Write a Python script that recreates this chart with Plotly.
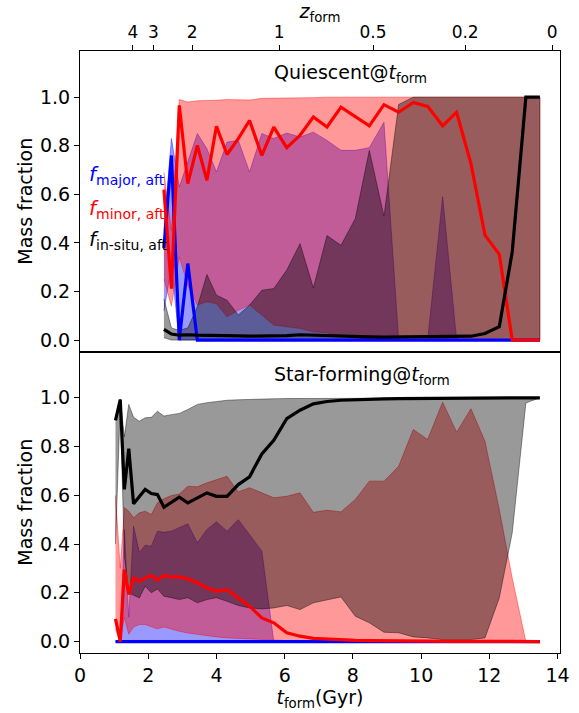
import plotly.graph_objects as go

# Formation time grid (Gyr)
t_gyr = [1.04, 1.18, 1.30, 1.43, 1.57, 1.74, 1.91, 2.09, 2.27, 2.46,
         2.68, 2.91, 3.16, 3.44, 3.72, 4.00, 4.31, 4.64, 4.97, 5.33,
         5.68, 6.06, 6.45, 6.84, 7.24, 7.65, 8.07, 8.48, 8.91, 9.34,
         9.77, 10.19, 10.63, 11.04, 11.46, 11.87, 12.29, 12.67, 13.07, 13.48]

# Redshift axis: labels and the cosmic time (Gyr) where each sits
z_labels = ["4", "3", "2", "1", "0.5", "0.2", "0"]
z_tick_t = [1.55, 2.15, 3.29, 5.84, 8.59, 11.29, 13.84]

x_ticks = [0, 2, 4, 6, 8, 10, 12, 14]
y_ticks = [0.0, 0.2, 0.4, 0.6, 0.8, 1.0]

# ---------------- Quiescent@t_form (starts at t_gyr[9]) ----------------
Q_START = 9
q_major_med = [0.38, 0.76, 0.0, 0.315, 0.0, 0.0, 0.0, 0.0, 0.0, 0.0,
               0.0, 0.0, 0.0, 0.0, 0.0, 0.0, 0.0, 0.0, 0.0, 0.0,
               0.0, 0.0, 0.0, 0.0, 0.0, 0.0, 0.0, 0.0, 0.0, 0.0, 0.0]
q_major_hi = [0.45, 0.83, 0.63, 0.733, 0.85, 0.788, 0.692, 0.815, 0.822, 0.692,
              0.85, 0.83, 0.852, 0.836, 0.856, 0.822, 0.781, 0.781, 0.792, 0.897,
              0.0, 0.0, 0.0, 0.59, 0.0, 0.0, 0.0, 0.0, 0.0, 0.0, 0.0]
q_major_lo = [0.12, 0.30, 0.0, 0.0, 0.0, 0.0, 0.0, 0.0, 0.0, 0.0,
              0.0, 0.0, 0.0, 0.0, 0.0, 0.0, 0.0, 0.0, 0.0, 0.0,
              0.0, 0.0, 0.0, 0.0, 0.0, 0.0, 0.0, 0.0, 0.0, 0.0, 0.0]

q_minor_med = [0.619, 0.212, 0.966, 0.644, 0.801, 0.658, 0.88, 0.764, 0.829, 0.904,
               0.760, 0.877, 0.792, 0.843, 0.918, 0.877, 0.959, 0.921, 0.882, 0.969,
               0.938, 0.978, 0.962, 0.882, 0.938, 0.726, 0.432, 0.353, 0.0, 0.0, 0.0]
q_minor_hi = [0.69, 0.45, 0.99, 0.98, 0.985, 0.985, 0.987, 0.99, 0.99, 0.988,
              0.995, 0.995, 0.998, 0.998, 0.998, 1.0, 1.0, 1.0, 1.0, 1.0,
              1.0, 1.0, 1.0, 1.0, 1.0, 1.0, 1.0, 1.0, 1.0, 1.0, 1.0]
q_minor_lo = [0.25, 0.14, 0.342, 0.226, 0.144, 0.158, 0.15, 0.096, 0.123, 0.144,
              0.103, 0.062, 0.055, 0.048, 0.034, 0.03, 0.015, 0.01, 0.0, 0.0,
              0.0, 0.0, 0.0, 0.0, 0.0, 0.0, 0.0, 0.0, 0.0, 0.0, 0.0]

q_insitu_med = [0.044, 0.025, 0.02, 0.022, 0.02, 0.02, 0.018, 0.017, 0.017, 0.016,
                0.016, 0.016, 0.018, 0.022, 0.02, 0.017, 0.015, 0.015, 0.013, 0.012,
                0.013, 0.012, 0.013, 0.015, 0.015, 0.016, 0.027, 0.055, 0.363, 1.0, 1.0]
q_insitu_hi = [0.17, 0.05, 0.04, 0.05, 0.137, 0.27, 0.185, 0.164, 0.103, 0.144,
               0.205, 0.212, 0.288, 0.397, 0.215, 0.43, 0.39, 0.5, 0.781, 0.51,
               0.97, 1.0, 1.0, 1.0, 1.0, 1.0, 1.0, 1.0, 1.0, 1.0, 1.0]
q_insitu_lo = [0.01, 0.0, 0.0, 0.0, 0.0, 0.0, 0.0, 0.0, 0.0, 0.0,
               0.0, 0.0, 0.0, 0.0, 0.0, 0.0, 0.0, 0.0, 0.0, 0.0,
               0.0, 0.0, 0.0, 0.0, 0.0, 0.0, 0.0, 0.0, 0.0, 0.0, 0.0]

# ---------------- Star-forming@t_form (full grid) ----------------
sf_major_med = [0.0] * 40
sf_major_hi = [0.0, 0.0, 0.46, 0.1, 0.473, 0.366, 0.395, 0.391, 0.453, 0.448,
               0.453, 0.466, 0.483, 0.405, 0.46, 0.491, 0.453, 0.5, 0.439, 0.371,
               0.0, 0.0, 0.0, 0.0, 0.0, 0.0, 0.0, 0.0, 0.0, 0.0,
               0.0, 0.0, 0.0, 0.0, 0.0, 0.0, 0.0, 0.0, 0.0, 0.0]
sf_major_lo = [0.0] * 40

sf_minor_med = [0.093, 0.0, 0.295, 0.193, 0.261, 0.247, 0.261, 0.271, 0.252, 0.271,
                0.265, 0.265, 0.257, 0.241, 0.22, 0.206, 0.213, 0.179, 0.145, 0.097,
                0.077, 0.036, 0.022, 0.013, 0.01, 0.006, 0.005, 0.004, 0.003, 0.003,
                0.002, 0.002, 0.002, 0.001, 0.001, 0.001, 0.001, 0.0, 0.0, 0.0]
sf_minor_hi = [0.6, 0.3, 0.55, 0.535, 0.508, 0.528, 0.535, 0.521, 0.569, 0.586,
               0.599, 0.605, 0.637, 0.635, 0.651, 0.665, 0.678, 0.614, 0.631, 0.61,
               0.59, 0.596, 0.61, 0.53, 0.539, 0.532, 0.583, 0.658, 0.658, 0.719,
               0.87, 0.829, 0.982, 0.859, 0.955, 0.822, 0.542, 0.26, 0.0, 0.0]
sf_minor_lo = [0.05, 0.0, 0.1, 0.03, 0.06, 0.07, 0.07, 0.06, 0.052, 0.06,
               0.05, 0.042, 0.035, 0.029, 0.024, 0.019, 0.015, 0.011, 0.009, 0.008,
               0.006, 0.004, 0.002, 0.002, 0.001, 0.001, 0.0, 0.0, 0.0, 0.0,
               0.0, 0.0, 0.0, 0.0, 0.0, 0.0, 0.0, 0.0, 0.0, 0.0]

sf_insitu_med = [0.907, 0.993, 0.624, 0.791, 0.565, 0.596, 0.624, 0.607, 0.603, 0.551,
                 0.572, 0.592, 0.569, 0.59, 0.61, 0.596, 0.596, 0.644, 0.676, 0.77,
                 0.826, 0.914, 0.949, 0.975, 0.985, 0.99, 0.993, 0.995, 0.996, 0.997,
                 0.997, 0.998, 0.998, 0.998, 0.999, 0.999, 0.999, 1.0, 1.0, 1.0]
sf_insitu_hi = [0.91, 0.995, 0.84, 0.973, 0.92, 0.904, 0.918, 0.92, 0.945, 0.925,
                0.931, 0.936, 0.952, 0.973, 0.98, 0.985, 0.99, 0.992, 0.994, 0.995,
                0.996, 0.997, 0.997, 0.997, 0.998, 0.998, 0.998, 0.998, 0.999, 0.999,
                0.999, 0.999, 0.999, 0.999, 0.999, 0.999, 0.999, 0.999, 0.999, 1.0]
sf_insitu_lo = [0.40, 0.97, 0.35, 0.2, 0.19, 0.179, 0.227, 0.2, 0.216, 0.186,
                0.18, 0.172, 0.18, 0.159, 0.172, 0.18, 0.165, 0.148, 0.138, 0.134,
                0.138, 0.148, 0.131, 0.159, 0.172, 0.183, 0.104, 0.077, 0.038, 0.036,
                0.019, 0.015, 0.008, 0.008, 0.008, 0.015, 0.179, 0.446, 0.979, 1.0]

BLUE = (0, 0, 255)
RED = (255, 0, 0)
BLACK = (0, 0, 0)
FONT = "DejaVu Sans"


def rgba(c, a):
    return f"rgba({c[0]},{c[1]},{c[2]},{a})"


def add_band(fig, t, lo, hi, color, xa, ya):
    fig.add_trace(go.Scatter(
        x=list(t) + list(t)[::-1], y=list(hi) + list(lo)[::-1],
        mode="lines", fill="toself", fillcolor=rgba(color, 0.4),
        line=dict(color=rgba(color, 0.4), width=1),
        xaxis=xa, yaxis=ya, hoverinfo="skip", showlegend=False))


def add_line(fig, t, med, color, xa, ya):
    fig.add_trace(go.Scatter(
        x=t, y=med, mode="lines", line=dict(color=rgba(color, 1), width=3.2),
        xaxis=xa, yaxis=ya, showlegend=False))


fig = go.Figure()

# Top panel: quiescent
q_t = t_gyr[Q_START:]
add_band(fig, q_t, q_major_lo, q_major_hi, BLUE, "x2", "y2")
add_band(fig, q_t, q_minor_lo, q_minor_hi, RED, "x2", "y2")
add_band(fig, q_t, q_insitu_lo, q_insitu_hi, BLACK, "x2", "y2")
add_line(fig, q_t, q_major_med, BLUE, "x2", "y2")
add_line(fig, q_t, q_minor_med, RED, "x2", "y2")
add_line(fig, q_t, q_insitu_med, BLACK, "x2", "y2")

# Bottom panel: star-forming
add_band(fig, t_gyr, sf_major_lo, sf_major_hi, BLUE, "x", "y")
add_band(fig, t_gyr, sf_minor_lo, sf_minor_hi, RED, "x", "y")
add_band(fig, t_gyr, sf_insitu_lo, sf_insitu_hi, BLACK, "x", "y")
add_line(fig, t_gyr, sf_major_med, BLUE, "x", "y")
add_line(fig, t_gyr, sf_minor_med, RED, "x", "y")
add_line(fig, t_gyr, sf_insitu_med, BLACK, "x", "y")

split = 301.5 / 602
tickfont = dict(family=FONT, size=19, color="black")
common_axis = dict(showline=True, linecolor="black", linewidth=1, mirror=True,
                   ticks="outside", ticklen=5, tickwidth=1, tickcolor="black",
                   showgrid=False, zeroline=False, tickfont=tickfont,
                   automargin=False)
x_range = [0, 14.07]
y_range = [-0.047, 1.19]

fig.update_layout(
    width=579, height=713, autosize=False,
    margin=dict(l=80, r=19, t=51, b=60),
    paper_bgcolor="white", plot_bgcolor="white",
    showlegend=False,
    font=dict(family=FONT, color="black"),
    xaxis=dict(domain=[0, 1], anchor="y", range=x_range, tickvals=x_ticks,
               title=dict(text="<i>t</i><sub>form</sub>(Gyr)",
                          font=dict(family=FONT, size=19), standoff=3),
               **common_axis),
    yaxis=dict(domain=[0, split], anchor="x", range=y_range, tickvals=y_ticks,
               tickformat=".1f",
               title=dict(text="Mass fraction", font=dict(family=FONT, size=19),
                          standoff=2),
               **common_axis),
    xaxis2=dict(domain=[0, 1], anchor="y2", range=x_range, side="top",
                tickvals=z_tick_t, ticktext=z_labels,
                title=dict(text="<i>z</i><sub>form</sub>",
                           font=dict(family=FONT, size=19), standoff=4),
                **{**common_axis, "tickfont": dict(family=FONT, size=17, color="black")}),
    yaxis2=dict(domain=[split, 1], anchor="x2", range=y_range, tickvals=y_ticks,
                tickformat=".1f",
                title=dict(text="Mass fraction", font=dict(family=FONT, size=19),
                           standoff=2),
                **common_axis),
)

# Panel labels
fig.add_annotation(text="Quiescent@<i>t</i><sub>form</sub>", xref="x2 domain", yref="y2 domain",
                   x=0.4, y=0.925, xanchor="left", yanchor="middle", showarrow=False,
                   font=dict(family=FONT, size=19, color="black"))
fig.add_annotation(text="Star-forming@<i>t</i><sub>form</sub>", xref="x domain", yref="y domain",
                   x=0.4, y=0.92, xanchor="left", yanchor="middle", showarrow=False,
                   font=dict(family=FONT, size=19, color="black"))

# Component key in the top panel
key_labels = ["<i>f</i><sub>major, aft</sub>", "<i>f</i><sub>minor, aft</sub>",
              "<i>f</i><sub>in-situ, aft</sub>"]
key_colors = [BLUE, RED, BLACK]
key_y = [0.68, 0.54, 0.41]
for txt, c, yv in zip(key_labels, key_colors, key_y):
    fig.add_annotation(text=txt, xref="x2", yref="y2", x=0.2, y=yv,
                       xanchor="left", yanchor="middle", showarrow=False,
                       font=dict(family=FONT, size=20, color=rgba(c, 1)))

fig.write_html("out.html")
